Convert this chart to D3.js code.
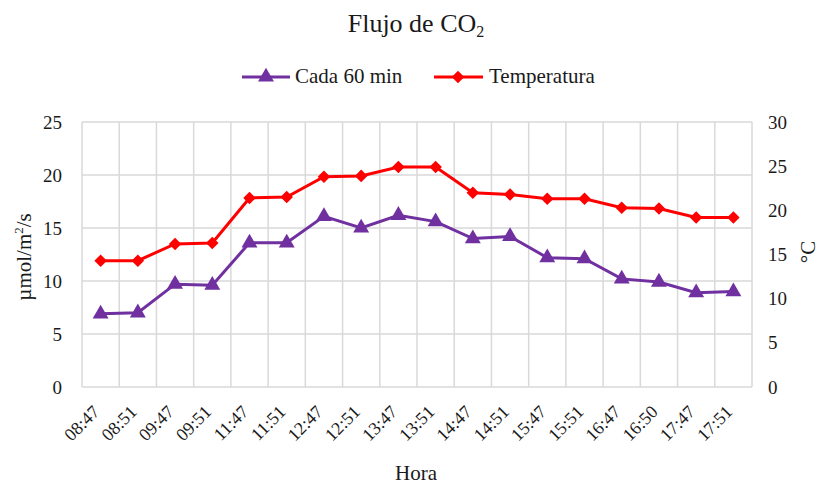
<!DOCTYPE html>
<html><head><meta charset="utf-8">
<script src="https://cdn.jsdelivr.net/npm/d3@7"></script>
<style>body{margin:0;background:#fff;} text{font-family:"Liberation Serif","Times New Roman",serif;fill:#1a1a1a;}</style>
</head><body>
<svg id="c" width="819" height="485"></svg>
<script>
const categories = ["08:47","08:51","09:47","09:51","11:47","11:51","12:47","12:51","13:47","13:51","14:47","14:51","15:47","15:51","16:47","16:50","17:47","17:51"];
const flujo = [6.9,7.0,9.7,9.6,13.6,13.6,16.1,15.0,16.2,15.6,14.0,14.2,12.2,12.1,10.2,9.9,8.9,9.0];
const temperatura = [14.3,14.3,16.2,16.3,21.4,21.5,23.8,23.9,24.9,24.9,22.0,21.8,21.3,21.3,20.3,20.2,19.2,19.2];
const leftTicks = [0,5,10,15,20,25];
const rightTicks = [0,5,10,15,20,25,30];

const svg = d3.select("#c");
const L=82, R=752, T=122, B=387;
const x = d3.scaleBand().domain(categories).range([L,R]);
const yL = d3.scaleLinear().domain([0,25]).range([B,T]);
const yR = d3.scaleLinear().domain([0,30]).range([B,T]);
const grid="#d9d9d9";

// horizontal grid
svg.append("g").selectAll("line").data(leftTicks).join("line")
  .attr("x1",L).attr("x2",R).attr("y1",d=>yL(d)).attr("y2",d=>yL(d))
  .attr("stroke",grid).attr("stroke-width",1.5);
// vertical grid
svg.append("g").selectAll("line").data(categories.concat(["_end"])).join("line")
  .attr("x1",(d,i)=>L+i*x.bandwidth()).attr("x2",(d,i)=>L+i*x.bandwidth())
  .attr("y1",T).attr("y2",B).attr("stroke",grid).attr("stroke-width",1.5);

// left axis labels
svg.append("g").selectAll("text").data(leftTicks).join("text")
  .attr("x",62).attr("y",d=>yL(d)).attr("dy","0.35em").attr("text-anchor","end")
  .attr("font-size",19).text(d=>d);
// right axis labels
svg.append("g").selectAll("text").data(rightTicks).join("text")
  .attr("x",768).attr("y",d=>yR(d)).attr("dy","0.35em").attr("text-anchor","start")
  .attr("font-size",19).text(d=>d);
// x labels
svg.append("g").selectAll("text").data(categories).join("text")
  .attr("transform",d=>`translate(${x(d)+x.bandwidth()/2},${413}) rotate(-45)`)
  .attr("text-anchor","end").attr("font-size",18).text(d=>d);

// lines
const cx = d=>x(d)+x.bandwidth()/2;
const lineF = d3.line().x((d,i)=>cx(categories[i])).y(d=>yL(d));
const lineT = d3.line().x((d,i)=>cx(categories[i])).y(d=>yR(d));
svg.append("path").datum(temperatura).attr("d",lineT).attr("fill","none").attr("stroke","#ff0000").attr("stroke-width",3);
svg.append("path").datum(flujo).attr("d",lineF).attr("fill","none").attr("stroke","#7030a0").attr("stroke-width",3);
const tri = d3.symbol().type(d3.symbolTriangle).size(110);
const dia = d3.symbol().type(d3.symbolDiamond2).size(100);
svg.append("g").selectAll("path").data(temperatura).join("path")
  .attr("d",dia).attr("transform",(d,i)=>`translate(${cx(categories[i])},${yR(d)})`).attr("fill","#ff0000");
svg.append("g").selectAll("path").data(flujo).join("path")
  .attr("d",tri).attr("transform",(d,i)=>`translate(${cx(categories[i])},${yL(d)})`).attr("fill","#7030a0");

// title
const t = svg.append("text").attr("x",416).attr("y",32).attr("text-anchor","middle").attr("font-size",26);
t.append("tspan").text("Flujo de CO");
t.append("tspan").attr("font-size",16).attr("dy",5).text("2");

// legend
const lg = svg.append("g");
lg.append("line").attr("x1",242).attr("x2",290).attr("y1",77).attr("y2",77).attr("stroke","#7030a0").attr("stroke-width",3);
lg.append("path").attr("d",tri).attr("transform","translate(266,77)").attr("fill","#7030a0");
lg.append("text").attr("x",295).attr("y",83).attr("font-size",21).text("Cada 60 min");
lg.append("line").attr("x1",434).attr("x2",483).attr("y1",77).attr("y2",77).attr("stroke","#ff0000").attr("stroke-width",3);
lg.append("path").attr("d",dia).attr("transform","translate(458,77)").attr("fill","#ff0000");
lg.append("text").attr("x",489).attr("y",83).attr("font-size",21).text("Temperatura");

// axis titles
const yl = svg.append("text").attr("transform","translate(31,257) rotate(-90)").attr("text-anchor","middle").attr("font-size",21);
yl.append("tspan").text("µmol/m");
yl.append("tspan").attr("font-size",13).attr("dy",-8).text("2");
yl.append("tspan").attr("dy",8).text("/s");
svg.append("text").attr("transform","translate(815,252) rotate(-90)").attr("text-anchor","middle").attr("font-size",21).text("°C");
svg.append("text").attr("x",416).attr("y",480).attr("text-anchor","middle").attr("font-size",21).text("Hora");
</script>
</body></html>
